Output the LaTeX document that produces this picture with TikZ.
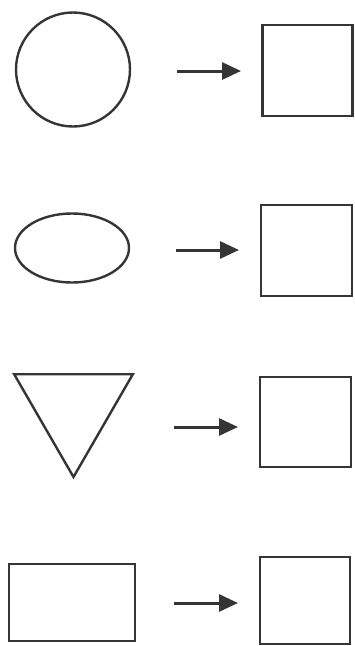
\documentclass[tikz,border=0pt]{standalone}
\usetikzlibrary{arrows.meta,shapes.geometric}
\definecolor{ink}{HTML}{353535}
\tikzset{
    shp/.style={draw=ink, line width=2.4pt, inner sep=0pt, fill=white},
    sq/.style={shp, minimum width=#1pt, minimum height=#1pt},
    conv/.style={draw=ink, line width=3pt, -{Triangle[length=19pt,width=17pt]}}
}
\begin{document}
\begin{tikzpicture}[x=1pt, y=-1pt]
    \useasboundingbox (0,0) rectangle (355,646);
    % left shapes
    \node[shp, circle, minimum size=114pt] (circ) at (73,69.5) {};
    \node[shp, ellipse, minimum width=114pt, minimum height=69pt] (ell) at (72,248) {};
    \node[shp, regular polygon, regular polygon sides=3, shape border rotate=180, minimum size=137pt] (tri) at (73.5,408.5) {};
    \node[shp, rectangle, minimum width=126pt, minimum height=77pt] (rect) at (72,602.5) {};
    % right squares
    \node[sq=90, minimum height=91pt] (sqa) at (307.5,70.5) {};
    \node[sq=91] (sqb) at (306.5,250.5) {};
    \node[sq=91, minimum height=90pt] (sqc) at (305.5,422) {};
    \node[sq=90, minimum height=87pt] (sqd) at (305,600.5) {};
    % arrows
    \coordinate (ta) at (177,71);  \coordinate (ha) at (241,71);
    \coordinate (tb) at (176,250); \coordinate (hb) at (239,250);
    \coordinate (tc) at (174,427); \coordinate (hc) at (238,427);
    \coordinate (td) at (174,603); \coordinate (hd) at (238,603);
    \draw[conv] (ta) -- (ha);
    \draw[conv] (tb) -- (hb);
    \draw[conv] (tc) -- (hc);
    \draw[conv] (td) -- (hd);
\end{tikzpicture}
\end{document}
